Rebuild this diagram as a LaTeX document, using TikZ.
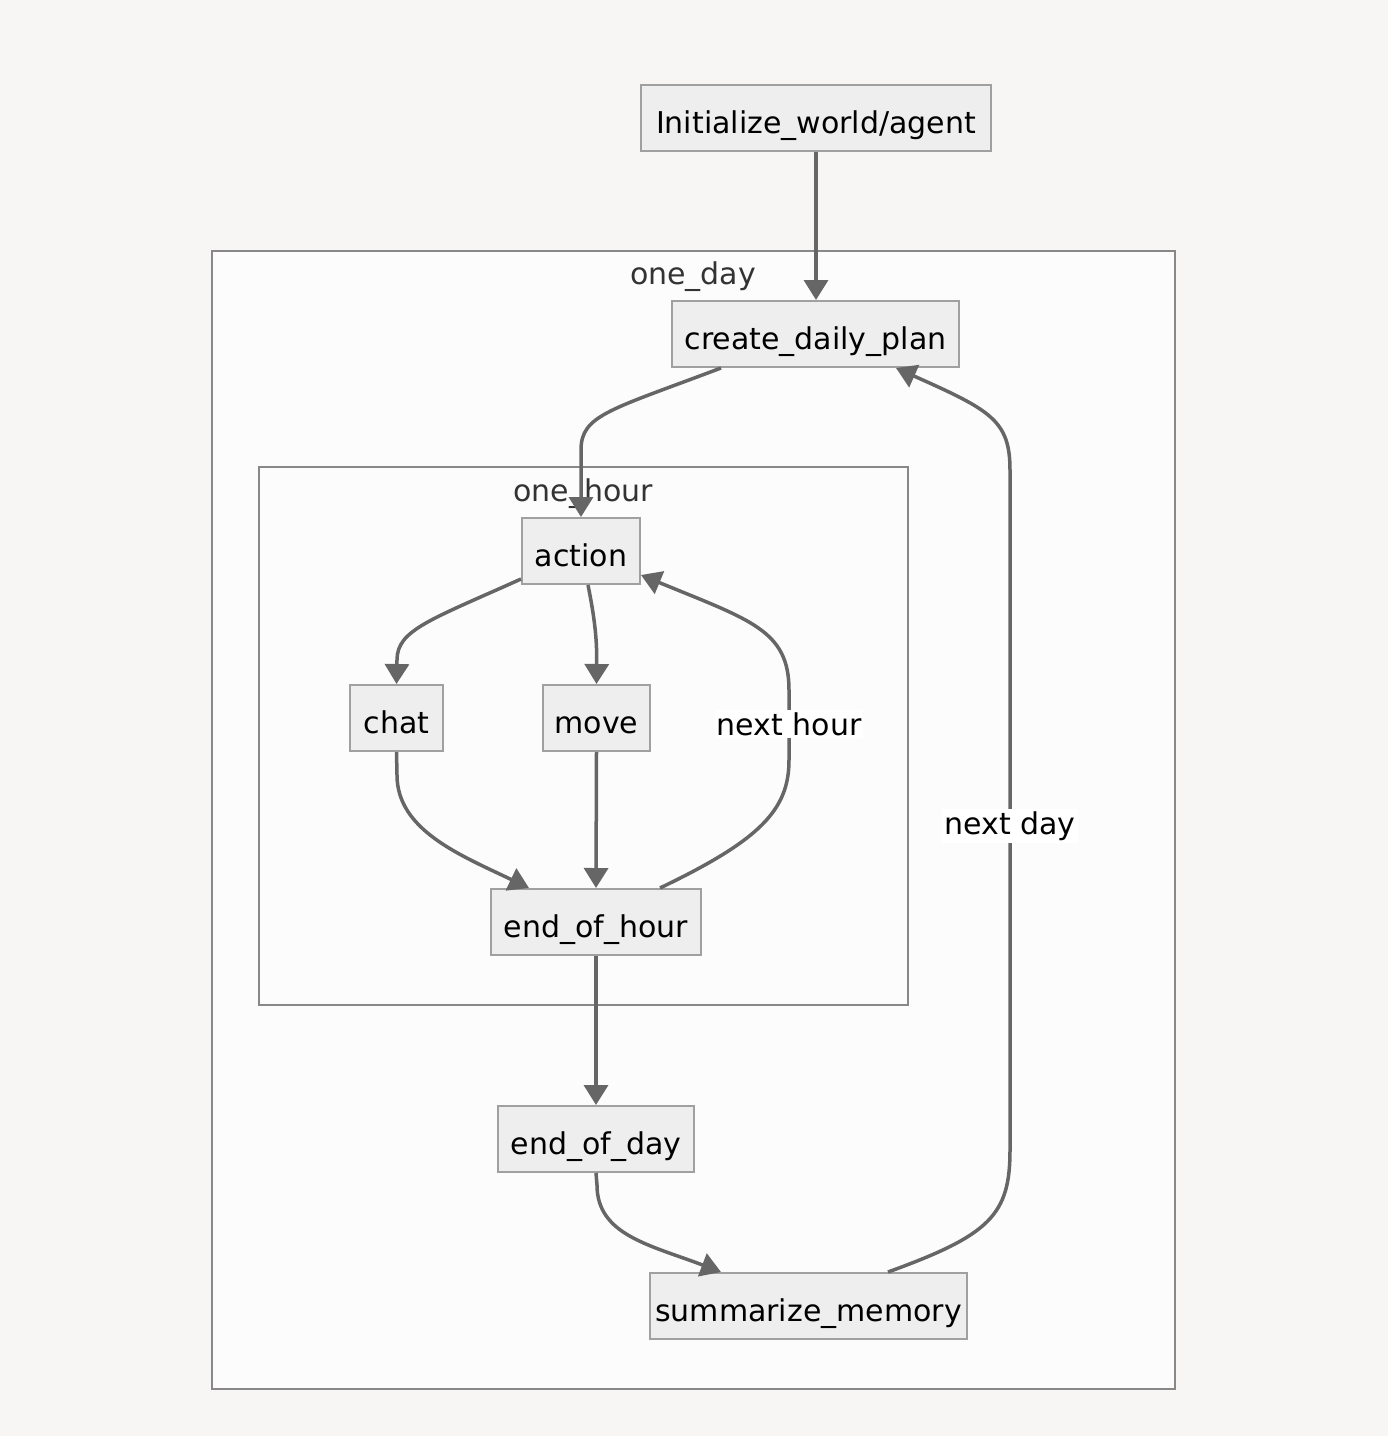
\documentclass[tikz,border=0pt]{standalone}
\usepackage{fontspec}
\setmainfont{DejaVu Sans}
\usetikzlibrary{arrows.meta,calc}
\definecolor{bg}{HTML}{F7F6F5}
\definecolor{clfill}{HTML}{FCFCFC}
\definecolor{clline}{HTML}{888888}
\definecolor{nfill}{HTML}{EEEEEE}
\definecolor{nline}{HTML}{A0A0A0}
\definecolor{eline}{HTML}{666666}
\definecolor{cltext}{HTML}{333333}
\tikzset{
  box/.style={draw=nline, fill=nfill, line width=1pt, inner sep=0pt, minimum height=33pt, text height=15.5pt, text depth=0pt, font=\fontsize{15}{18}\selectfont, text=black},
  cluster/.style={draw=clline, fill=clfill, line width=1pt},
  cltitle/.style={font=\fontsize{15}{18}\selectfont, text=cltext, inner sep=0pt},
  edge/.style={draw=eline, line width=1.75pt, -{Triangle[length=10pt,width=12pt]}},
  elabel/.style={fill=white, inner sep=1pt, font=\fontsize{15}{18}\selectfont, text=black},
}
\begin{document}
\begin{tikzpicture}[x=0.5pt,y=-0.5pt]
\useasboundingbox (0,0) rectangle (1388,1436);
\fill[bg] (0,0) rectangle (1388,1436);
% clusters
\draw[cluster] (212,251) rectangle (1175,1389);
\node[cltitle] (dayt) at (693,277) {one\_day};
\draw[cluster] (259,467) rectangle (908,1005);
\node[cltitle] (hourt) at (583,494) {one\_hour};
% nodes
\node[box, minimum width=175pt] (init) at (816,117.5) {Initialize\_world/agent};
\node[box, minimum width=143.5pt] (create) at (815.5,334) {create\_daily\_plan};
\node[box, minimum width=59pt] (action) at (581,551) {action};
\node[box, minimum width=46.5pt] (chat) at (396.5,718) {chat};
\node[box, minimum width=53.5pt] (move) at (596.5,718) {move};
\node[box, minimum width=105pt] (eoh) at (596,922) {end\_of\_hour};
\node[box, minimum width=98pt] (eod) at (596,1139) {end\_of\_day};
\node[box, minimum width=158.5pt] (summ) at (808.5,1306) {summarize\_memory};
% edges
\draw[edge] (init.south) -- (create.north -| init.south);
\draw[edge] ($(create.south west)+(50,0)$) .. controls (610,410) and (581,415) .. (581,450) -- (action.north);
\draw[edge] ($(action.south west)+(0,-6)$) .. controls (430,620) and (397,630) .. (397,660) -- (chat.north);
\draw[edge] ($(action.south)+(7,0)$) .. controls (595,620) and (597,640) .. (move.north);
\draw[edge] ($(eoh.north)+(64,0)$) .. controls (760,840) and (789,810) .. (789,760) -- (789,690) .. controls (789,630) and (750,620) .. ($(action.south east)+(0,-10)$);
\node[elabel] (nh) at (789,724) {next hour};
\draw[edge] (chat.south) -- (397,775) .. controls (397,830) and (460,855) .. ($(eoh.north west)+(39,0)$);
\draw[edge] (move.south) -- (eoh.north);
\draw[edge] (eoh.south) -- (eod.north);
\draw[edge] (eod.south) -- (597,1185) .. controls (597,1235) and (650,1245) .. ($(summ.north west)+(72,0)$);
\draw[edge] ($(summ.north west)+(239,0)$) .. controls (990,1235) and (1010,1215) .. (1010,1150) -- (1010,470) .. controls (1010,420) and (990,410) .. ($(create.south west)+(225,0)$);
\node[elabel] (nd) at (1010,826) {next day};
\end{tikzpicture}
\end{document}
